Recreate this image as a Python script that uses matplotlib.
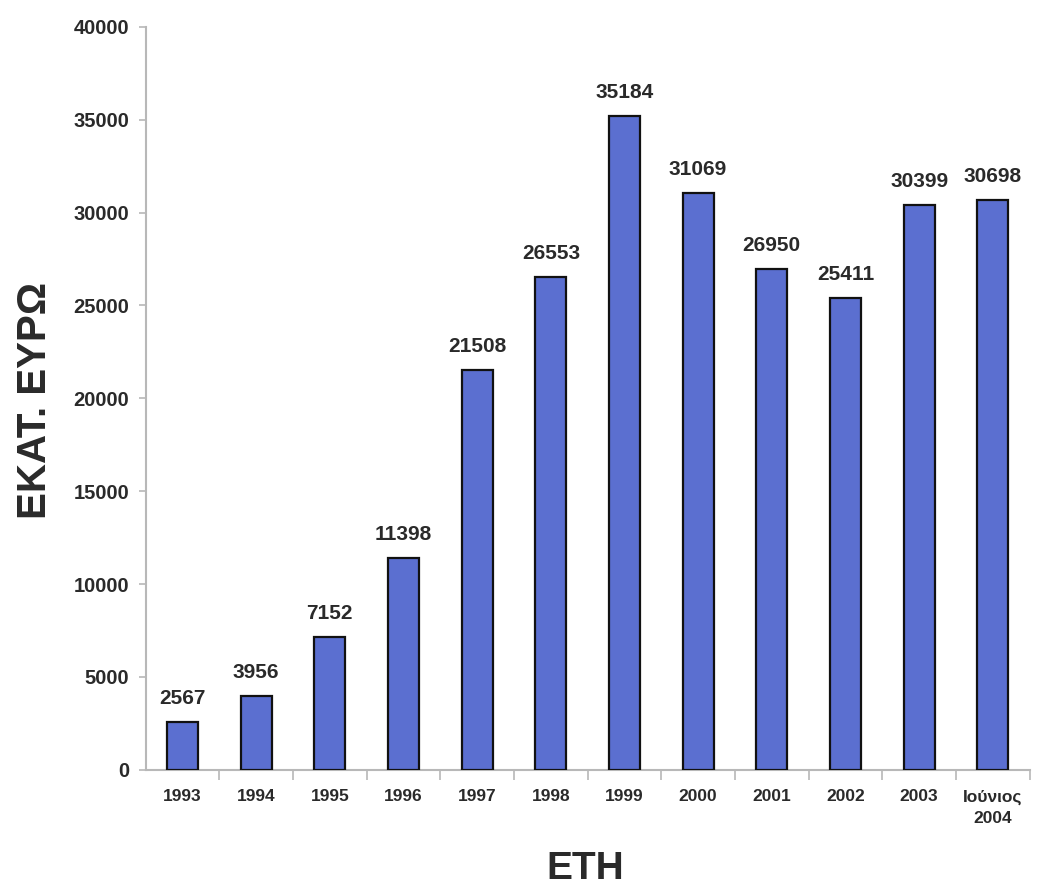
import matplotlib
matplotlib.use("Agg")
import matplotlib.pyplot as plt

years = ["1993", "1994", "1995", "1996", "1997", "1998", "1999", "2000",
         "2001", "2002", "2003", "Ιούνιος\n2004"]
amounts = [2567, 3956, 7152, 11398, 21508, 26553, 35184, 31069,
           26950, 25411, 30399, 30698]
yticks = [0, 5000, 10000, 15000, 20000, 25000, 30000, 35000, 40000]

plt.rcParams["font.family"] = ["Liberation Sans", "DejaVu Sans"]
plt.rcParams["font.weight"] = "bold"

fig = plt.figure(figsize=(10.41, 8.91), dpi=100)
ax = fig.add_axes([0.140, 0.136, 0.849, 0.834])

text_color = "#2a2a2a"
axis_color = "#b8b8b8"

x = list(range(len(years)))
bars = ax.bar(x, amounts, width=0.42, color="#5b6fd0",
              edgecolor="#111111", linewidth=1.6, zorder=3)

for xi, v in zip(x, amounts):
    ax.annotate(f"{v}", (xi, v), xytext=(0, 10), textcoords="offset points",
                ha="center", va="bottom", fontsize=15, fontweight="bold",
                color=text_color)

ax.set_xlim(-0.5, len(years) - 0.5)
ax.set_ylim(0, 40000)
ax.set_yticks(yticks)
ax.set_yticklabels([str(t) for t in yticks], fontsize=14.5, fontweight="bold",
                   color=text_color)

ax.set_xticks(x)
ax.set_xticklabels(years, fontsize=12.5, fontweight="bold", color=text_color,
                   linespacing=1.5)
ax.tick_params(axis="x", length=0, pad=14)
ax.set_xticks([i + 0.5 for i in x], minor=True)
ax.tick_params(axis="x", which="minor", length=7, color=axis_color, width=1.2)
ax.tick_params(axis="y", length=5, color=axis_color, width=1.2, pad=7)

for side in ("top", "right"):
    ax.spines[side].set_visible(False)
for side in ("left", "bottom"):
    ax.spines[side].set_color(axis_color)
    ax.spines[side].set_linewidth(1.5)

fig.text(0.034, 0.55, "ΕΚΑΤ. ΕΥΡΩ", rotation=90, ha="center", va="center",
         fontsize=29, fontweight="bold", color=text_color)
fig.text(0.562, 0.0245, "ΕΤΗ", ha="center", va="center",
         fontsize=28, fontweight="bold", color=text_color)

fig.savefig("out.png", dpi=100)
